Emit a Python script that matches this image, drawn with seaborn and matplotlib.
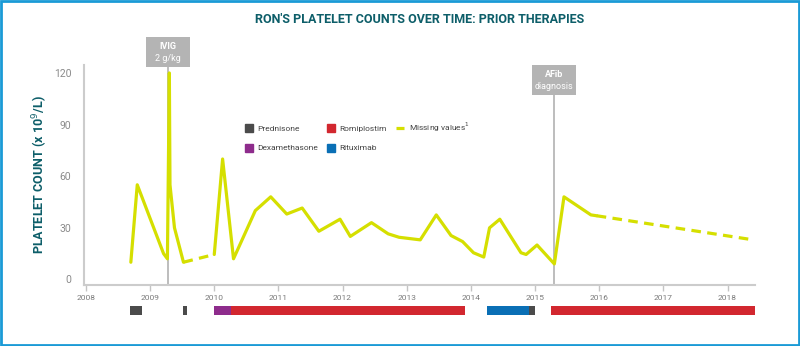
import numpy as np
import pandas as pd
import seaborn as sns
import matplotlib.pyplot as plt
from matplotlib.patches import Rectangle
from matplotlib.lines import Line2D
import matplotlib.transforms as mtransforms

sns.set_theme(style="white")
plt.rcParams['font.family'] = ['Roboto', 'DejaVu Sans']

# platelet counts (x 10^9/L), by decimal year
solid1_year = [2008.70, 2008.80, 2009.21, 2009.27, 2009.30, 2009.31, 2009.38, 2009.52]
solid1_count = [10, 55, 15, 12, 120, 55, 30, 10]
gap1_year = [2009.52, 2010.00]
gap1_count = [10, 14.5]
solid2_year = [2010.00, 2010.13, 2010.30, 2010.64, 2010.88, 2011.13, 2011.37, 2011.63,
               2011.96, 2012.12, 2012.45, 2012.71, 2012.88, 2013.21, 2013.46, 2013.69,
               2013.87, 2014.04, 2014.20, 2014.29, 2014.45, 2014.78, 2014.86, 2015.03,
               2015.30, 2015.45, 2015.87, 2015.96]
solid2_count = [14.5, 70, 12, 40, 48, 38, 41.5, 28,
                35, 25, 33, 26.5, 24.5, 23, 37.5, 25.5,
                22, 15.5, 13, 30, 35, 15.5, 14.5, 20,
                9, 48, 37.5, 37]
gap2_year = [2015.96, 2018.40]
gap2_count = [37, 23]

# therapies: (name, start, end)
therapy_name = ["Prednisone", "Prednisone", "Dexamethasone", "Romiplostim",
                "Rituximab", "Prednisone", "Romiplostim"]
therapy_start = [2008.69, 2009.51, 2010.00, 2010.26, 2014.25, 2014.91, 2015.25]
therapy_end = [2008.88, 2009.58, 2010.26, 2013.91, 2014.91, 2015.00, 2018.43]
therapy_colors = {"Prednisone": "#4b4b4b", "Dexamethasone": "#8e2c8c",
                  "Romiplostim": "#d2272f", "Rituximab": "#0a6fb5"}

events_year = [2009.28, 2015.30]
events_bold = ["IVIG", "AFib"]
events_sub = ["2 g/kg", "diagnosis"]

year_ticks = list(range(2008, 2019))
count_ticks = [0, 30, 60, 90, 120]

line_color = "#d5df00"
teal = "#0d5e69"
grey_box = "#b4b4b4"

solid = pd.DataFrame({
    "year": solid1_year + solid2_year,
    "count": solid1_count + solid2_count,
    "seg": [0] * len(solid1_year) + [1] * len(solid2_year),
})
dashed = pd.DataFrame({
    "year": gap1_year + gap2_year,
    "count": gap1_count + gap2_count,
    "seg": [0] * len(gap1_year) + [1] * len(gap2_year),
})

fig = plt.figure(figsize=(8, 3.46), dpi=100)
ax = fig.add_axes([0.105, 0.176, 0.839, 0.636])
bx = fig.add_axes([0.105, 0.089, 0.839, 0.027], sharex=ax)

sns.lineplot(data=solid, x="year", y="count", units="seg", estimator=None, sort=False,
             color=line_color, linewidth=2.3, ax=ax)
sns.lineplot(data=dashed, x="year", y="count", units="seg", estimator=None, sort=False,
             color=line_color, linewidth=2.3, ax=ax, dashes=False, linestyle=(0, (3, 2)))

ax.set_xlim(2007.97, 2018.43)
ax.set_ylim(-3.3, 124.6)
ax.set_xticks(year_ticks)
ax.set_xticklabels([str(y) for y in year_ticks], fontsize=6, color="#7a7a7a")
ax.set_yticks(count_ticks)
ax.set_yticklabels([str(c) for c in count_ticks], fontsize=7.5, color="#8a8a8a")
ax.tick_params(axis="x", length=4, width=1, color="#c4c4c4", pad=3, bottom=True)
ax.tick_params(axis="y", length=0, pad=9)
for s in ["top", "right"]:
    ax.spines[s].set_visible(False)
for s in ["left", "bottom"]:
    ax.spines[s].set_color("#cccccc")
    ax.spines[s].set_linewidth(1.5)
ax.set_xlabel("")
ax.set_ylabel("PLATELET COUNT (x 10$^9$/L)", color=teal, fontsize=9,
              fontweight="bold", labelpad=3)

# event markers
trans = mtransforms.blended_transform_factory(ax.transData, ax.transAxes)
box_tops = [1.127, 1.0]
for yr, b, sub, top in zip(events_year, events_bold, events_sub, box_tops):
    h = 0.136
    ax.plot([yr, yr], [0, top - h], transform=trans, color="#b8b8b8", lw=1.3,
            clip_on=False, zorder=1)
    ax.add_patch(Rectangle((yr - 0.345, top - h), 0.69, h, transform=trans,
                           facecolor=grey_box, edgecolor="none", clip_on=False))
    ax.text(yr, top - h * 0.3, b, transform=trans, ha="center", va="center",
            color="white", fontsize=6.5, fontweight="bold")
    ax.text(yr, top - h * 0.72, sub, transform=trans, ha="center", va="center",
            color="white", fontsize=6.5)

# therapy bars
for name, s, e in zip(therapy_name, therapy_start, therapy_end):
    bx.barh(0, e - s, left=s, height=1, color=therapy_colors[name], edgecolor="none")
bx.set_ylim(-0.5, 0.5)
bx.axis("off")

# legend
handles = [
    Line2D([], [], marker="s", ls="none", color=therapy_colors["Prednisone"], markersize=6),
    Line2D([], [], marker="s", ls="none", color=therapy_colors["Dexamethasone"], markersize=6),
    Line2D([], [], marker="s", ls="none", color=therapy_colors["Romiplostim"], markersize=6),
    Line2D([], [], marker="s", ls="none", color=therapy_colors["Rituximab"], markersize=6),
    Line2D([], [], color=line_color, lw=2.3, linestyle=(0, (3, 2))),
]
labels = ["Prednisone", "Dexamethasone", "Romiplostim", "Rituximab", "Missing values$^1$"]
leg = ax.legend(handles, labels, ncol=3, frameon=False, fontsize=6,
                loc="upper left", bbox_to_anchor=(0.228, 0.781),
                handlelength=1.0, handletextpad=0.5, columnspacing=1.1, labelspacing=1.5)
for t in leg.get_texts():
    t.set_color("#444444")

fig.text(0.524, 0.945, "RON'S PLATELET COUNTS OVER TIME: PRIOR THERAPIES", ha="center",
         va="center", color=teal, fontsize=9, fontweight="bold")

fig.patches.append(Rectangle((0.0015, 0.003), 0.997, 0.994, transform=fig.transFigure,
                             fill=False, edgecolor="#1a9ad6", lw=2))

fig.savefig("out.png", dpi=100)
